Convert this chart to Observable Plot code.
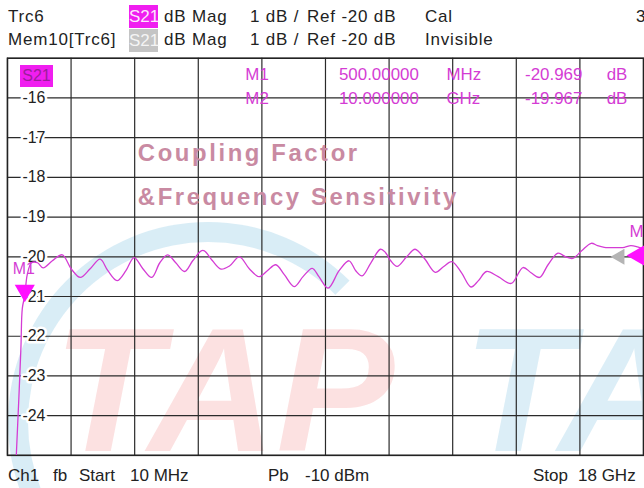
<!DOCTYPE html>
<html>
<head>
<meta charset="utf-8">
<script src="https://cdn.jsdelivr.net/npm/d3@7"></script>
<script src="https://cdn.jsdelivr.net/npm/@observablehq/plot@0.6"></script>
<style>
  html, body { margin: 0; padding: 0; background: #fff; overflow: hidden; }
  #wrap { position: relative; width: 644px; height: 488px; overflow: hidden; font-family: "Liberation Sans", Arial, sans-serif; }
  .t { position: absolute; font-size: 17px; line-height: 20px; color: #222; white-space: pre; }
  .hd { letter-spacing: 0.8px; }
  .box { position: absolute; font-size: 17px; line-height: 23px; color: #fff; padding: 0; width: 29px; text-align: center; }
  #arc { position: absolute; left: 8px; top: 222px; width: 360px; height: 360px; border-radius: 50%;
         border: 20px solid transparent; border-top-color: rgba(140,200,228,0.33); border-left-color: rgba(140,200,228,0.33); }
  #chart { position: absolute; left: 0; top: 0; }
  .title-text { letter-spacing: 2.6px; }
</style>
</head>
<body>
<div id="wrap">
  <div id="arc"></div>
  <div id="chart"></div>
</div>
<script>
// ---- data ----
// frequency (GHz) and magnitude (dB) of the S21 trace
const freqGHz = [0.21, 0.26, 0.33, 0.39, 0.43, 0.50, 0.57, 0.69, 0.86, 1.02, 1.28, 1.56, 1.81, 2.07, 2.35, 2.63, 2.85, 3.11, 3.36, 3.59,
  3.84, 4.09, 4.32, 4.54, 4.77, 5.02, 5.25, 5.49, 5.58, 5.81, 6.05, 6.29, 6.57, 6.85, 7.13, 7.36, 7.60, 7.84, 8.12, 8.37,
  8.63, 8.82, 9.08, 9.39, 9.67, 9.86, 10.04, 10.29, 10.56, 10.70, 10.85, 11.03, 11.30, 11.54, 11.81, 12.11, 12.34, 12.58, 12.85, 13.12,
  13.33, 13.56, 13.89, 14.26, 14.59, 14.82, 15.06, 15.30, 15.58, 15.80, 16.00, 16.25, 16.52, 16.70, 16.89, 17.16, 17.46, 17.64, 17.83, 18.00];
const magDb = [-26.5, -25.0, -23.6, -22.3, -21.3, -20.97, -20.45, -20.15, -20.15, -20.28, -20.10, -19.95, -20.30, -20.52, -20.30, -20.06, -20.35, -20.60, -20.35, -20.02,
  -20.30, -20.52, -20.15, -19.95, -20.15, -20.37, -20.10, -19.85, -19.85, -20.10, -20.31, -20.23, -20.00, -20.30, -20.50, -20.35, -20.20, -20.45, -20.75, -20.50,
  -20.29, -20.50, -20.79, -20.35, -20.10, -20.35, -20.48, -20.15, -19.81, -19.89, -20.10, -20.24, -20.00, -19.81, -20.05, -20.39, -20.25, -20.12, -20.40, -20.76,
  -20.60, -20.37, -20.50, -20.67, -20.27, -20.40, -20.52, -20.20, -19.91, -20.00, -20.04, -19.85, -19.66, -19.72, -19.76, -19.77, -19.76, -19.72, -19.75, -19.80];

// grid / ticks
const xGridGHz = [0.01, 1.809, 3.608, 5.407, 7.206, 9.005, 10.804, 12.603, 14.402, 16.201, 18.0];
const yGridDb = [-25, -24, -23, -22, -21, -20, -19, -18, -17, -16, -15];
const yTickLabels = [-16, -17, -18, -19, -20, -21, -22, -23, -24];

// markers
const markerNames = ["M1", "M2"];
const markerStim = ["500.00000", "10.000000"];
const markerUnit = ["MHz", "GHz"];
const markerDb = ["-20.969", "-19.967"];
const m1Point = [{f: 0.5, db: -21.0}];
const m2Edge = [{f: 18.0, db: -19.967}];
const memMarker = [{f: 17.33, db: -20.0}];

// title
const titleLines = ["Coupling Factor", "&Frequency Sensitivity"];

// header / footer texts
const header = [
  {text: "Trc6", x: 8, y: 7}, {text: "dB Mag", x: 164, y: 7}, {text: "1 dB /", x: 250, y: 7}, {text: "Ref -20 dB", x: 307, y: 7}, {text: "Cal", x: 425, y: 7}, {text: "3", x: 636, y: 7},
  {text: "Mem10[Trc6]", x: 8, y: 30}, {text: "dB Mag", x: 164, y: 30}, {text: "1 dB /", x: 250, y: 30}, {text: "Ref -20 dB", x: 307, y: 30}, {text: "Invisible", x: 425, y: 30}
];
const footer = [
  {text: "Ch1", x: 8, y: 466}, {text: "fb", x: 53, y: 466}, {text: "Start", x: 79, y: 466}, {text: "10 MHz", x: 130, y: 466},
  {text: "Pb", x: 268, y: 466}, {text: "-10 dBm", x: 305, y: 466}, {text: "Stop", x: 533, y: 466}, {text: "18 GHz", x: 578, y: 466}
];
const boxes = [
  {text: "S21", x: 129, y: 5, bg: "#f01ef0", fg: "#fde6fd"},
  {text: "S21", x: 129, y: 29, bg: "#c4c4c4", fg: "#f4f4f4"}
];

const trace = freqGHz.map((f, i) => ({f, db: magDb[i]}));
const font = "'Liberation Sans', Arial, sans-serif";
const mag = "#d43cd4";

const chart = Plot.plot({
  width: 647, height: 488,
  marginTop: 58, marginBottom: 31, marginLeft: 7, marginRight: 1,
  x: {domain: [0.01, 18], axis: null},
  y: {domain: [-25, -15], axis: null},
  style: {background: "transparent", fontFamily: font},
  marks: [
    // watermark letters
    Plot.text(["TAP"], {frameAnchor: "bottom-left", dx: 46, dy: -4, textAnchor: "start", lineAnchor: "bottom",
      fontSize: 178, fontWeight: "bold", fontStyle: "italic", fill: "#f26b6b", fillOpacity: 0.2}),
    Plot.text(["TAP"], {frameAnchor: "bottom-left", dx: 458, dy: -4, textAnchor: "start", lineAnchor: "bottom",
      fontSize: 178, fontWeight: "bold", fontStyle: "italic", fill: "#8cc8e4", fillOpacity: 0.3}),
    Plot.gridX(xGridGHz, {stroke: "#2a2a2a", strokeOpacity: 1, strokeWidth: 1.2}),
    Plot.gridY(yGridDb, {stroke: "#2a2a2a", strokeOpacity: 1, strokeWidth: 1.2}),
    Plot.frame({stroke: "#222", strokeWidth: 1.5}),
    // title
    Plot.text([titleLines.join("\n")], {frameAnchor: "top-left", dx: 131, dy: 111, textAnchor: "start",
      lineAnchor: "middle", lineHeight: 1.875, fontSize: 24, fontWeight: "bold", fill: "#c98aa2"}),
    // y tick labels with white halo
    Plot.text(yTickLabels, {y: d => d, frameAnchor: "left", dx: 15, textAnchor: "start", text: d => String(d),
      fontSize: 16, fill: "#222", stroke: "white", strokeWidth: 5}),
    // trace
    Plot.line(trace, {x: "f", y: "db", stroke: mag, strokeWidth: 1.3, clip: true, curve: "catmull-rom"}),
    // marker table
    Plot.text([markerNames.join("\n")], {frameAnchor: "top-left", dx: 239, dy: 4, textAnchor: "start", lineAnchor: "top", lineHeight: 1.45, fontSize: 17, fill: mag}),
    Plot.text([markerStim.join("\n")], {frameAnchor: "top-left", dx: 333, dy: 4, textAnchor: "start", lineAnchor: "top", lineHeight: 1.45, fontSize: 17, fill: mag}),
    Plot.text([markerUnit.join("\n")], {frameAnchor: "top-left", dx: 441, dy: 4, textAnchor: "start", lineAnchor: "top", lineHeight: 1.45, fontSize: 17, fill: mag}),
    Plot.text([markerDb.join("\n")], {frameAnchor: "top-left", dx: 520, dy: 4, textAnchor: "start", lineAnchor: "top", lineHeight: 1.45, fontSize: 17, fill: mag}),
    Plot.text([markerNames.map(() => "dB").join("\n")], {frameAnchor: "top-left", dx: 602, dy: 4, textAnchor: "start", lineAnchor: "top", lineHeight: 1.45, fontSize: 17, fill: mag}),
    // M1 marker
    Plot.dot(m1Point, {x: "f", y: "db", symbol: "triangle", rotate: 180, r: 7.5, dy: -6, fill: "#ff10ff", stroke: "none"}),
    Plot.text(m1Point, {x: "f", y: "db", text: () => "M1", dx: -1, dy: -28, fontSize: 16, fill: mag}),
    // memory marker (grey) and M2 edge marker
    Plot.dot(memMarker, {x: "f", y: "db", symbol: "triangle", rotate: -90, r: 6, fill: "#b4b4b4", stroke: "none"}),
    Plot.dot(m2Edge, {x: "f", y: "db", symbol: "triangle", rotate: -90, r: 9, dx: -3, fill: "#ff10ff", stroke: "none"}),
    Plot.text(m2Edge, {x: "f", y: "db", text: () => "M2", dx: -14, dy: -24, textAnchor: "start", fontSize: 17, fill: mag})
  ]
});
// letter-spaced title, as in the reference
d3.select(chart).selectAll("text")
  .filter(function() { return this.textContent.includes("Coupling"); })
  .attr("letter-spacing", "2.6px")
  .classed("title-text", true);
document.getElementById("chart").appendChild(chart);

const wrap = document.getElementById("wrap");
// in-grid S21 label box
const s21 = document.createElement("div");
s21.className = "box";
s21.textContent = "S21";
Object.assign(s21.style, {left: "20px", top: "65px", width: "33px", background: "#f01ef0", color: "#9b1f9b", lineHeight: "22px", fontSize: "16px"});
wrap.appendChild(s21);

for (const b of boxes) {
  const el = document.createElement("div");
  el.className = "box";
  el.textContent = b.text;
  Object.assign(el.style, {left: b.x + "px", top: b.y + "px", background: b.bg, color: b.fg});
  wrap.appendChild(el);
}
for (const [list, cls] of [[header, "t hd"], [footer, "t"]]) {
  for (const h of list) {
    const el = document.createElement("div");
    el.className = cls;
    el.textContent = h.text;
    Object.assign(el.style, {left: h.x + "px", top: h.y + "px"});
    wrap.appendChild(el);
  }
}
</script>
</body>
</html>
